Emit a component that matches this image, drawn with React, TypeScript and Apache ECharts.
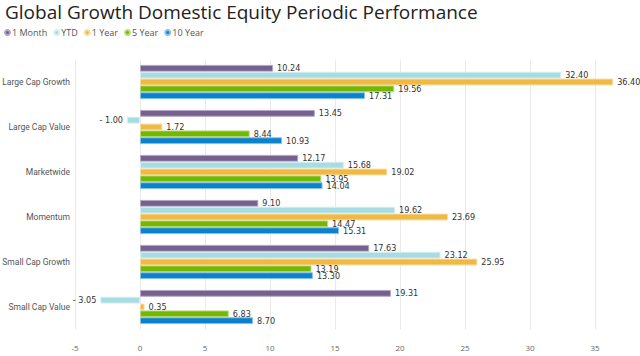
import React, { useEffect, useRef } from "react";
import * as echarts from "echarts";

const categories = ["Large Cap Growth", "Large Cap Value", "Marketwide", "Momentum", "Small Cap Growth", "Small Cap Value"];
const seriesNames = ["1 Month", "YTD", "1 Year", "5 Year", "10 Year"];
const oneMonth = [10.24, 13.45, 12.17, 9.10, 17.63, 19.31];
const ytd = [32.40, -1.00, 15.68, 19.62, 23.12, -3.05];
const oneYear = [36.40, 1.72, 19.02, 23.69, 25.95, 0.35];
const fiveYear = [19.56, 8.44, 13.95, 14.47, 13.19, 6.83];
const tenYear = [17.31, 10.93, 14.04, 15.31, 13.30, 8.70];
const colors = ["#76608D", "#A7DCE3", "#EFB944", "#74B600", "#0C82CC"];
const borders = ["#B3A5C4", "#D4EEF2", "#F7DCA0", "#B8DB80", "#86C0E6"];

export default function App() {
  const ref = useRef<HTMLDivElement>(null);
  useEffect(() => {
    const chart = echarts.init(ref.current!, null, { renderer: "svg" });
    const all = [oneMonth, ytd, oneYear, fiveYear, tenYear];
    chart.setOption({
      animation: false,
      title: {
        text: "Global Growth Domestic Equity Periodic Performance",
        left: 0,
        top: -3,
        textStyle: { fontFamily: "Open Sans", fontSize: 19, fontWeight: "normal", color: "#222" },
      },
      legend: {
        left: -1,
        top: 23,
        icon: "circle",
        itemWidth: 5,
        itemHeight: 5,
        itemGap: 6,
        textStyle: { fontFamily: "Open Sans", fontSize: 9, color: "#555", padding: [0, 0, 0, -3] },
        data: seriesNames,
      },
      grid: { left: 75, right: 19, top: 59.5, bottom: 26.5, containLabel: false, outerBoundsMode: "none" },
      xAxis: {
        type: "value",
        min: -5,
        max: 37,
        interval: 5,
        axisLine: { show: false },
        axisTick: { show: false },
        axisLabel: { showMaxLabel: false, fontFamily: "Open Sans", fontSize: 8, color: "#666", margin: 14 },
        splitLine: { show: true, showMaxLine: false, lineStyle: { color: "#eaeaea", width: 1 } },
      },
      yAxis: {
        type: "category",
        data: categories,
        inverse: true,
        axisLine: { show: false },
        axisTick: { show: false },
        axisLabel: { fontFamily: "Roboto", fontSize: 8.5, color: "#555", margin: 5 },
      },
      series: seriesNames.map((name, i) => ({
        name,
        type: "bar",
        barGap: "0%",
        barCategoryGap: "24%",
        itemStyle: { color: colors[i], borderColor: borders[i], borderWidth: 1 },
        label: {
          show: true,
          position: "right",
          distance: 4,
          fontFamily: "DejaVu Sans Condensed",
          fontSize: 9,
          color: "#333",
          formatter: (p: any) => (p.value < 0 ? "- " + Math.abs(p.value).toFixed(2) : p.value.toFixed(2)),
        },
        data: all[i].map((v) => (v < 0 ? { value: v, label: { position: "left" } } : v)),
      })),
    });
    return () => chart.dispose();
  }, []);
  return <div ref={ref} style={{ position: "absolute", left: 0, top: 0, width: 640, height: 356 }} />;
}
